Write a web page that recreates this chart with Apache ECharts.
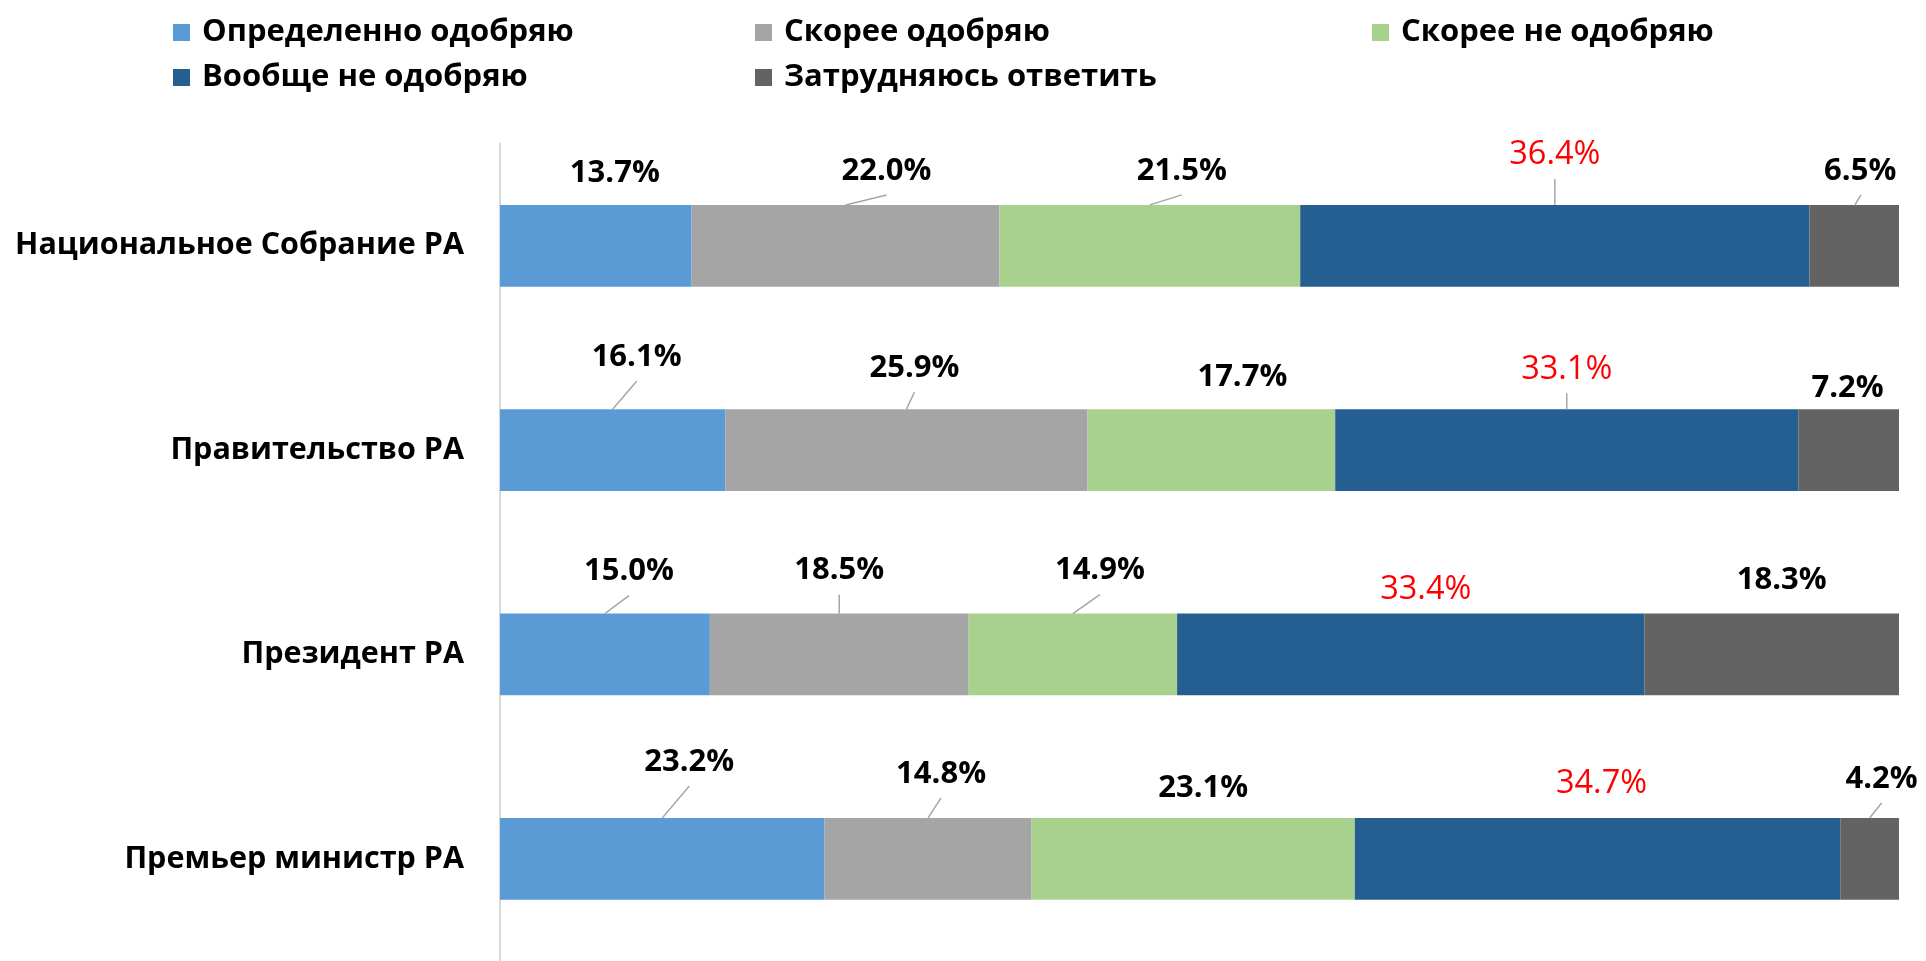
<!DOCTYPE html>
<html>
<head>
<meta charset="utf-8">
<script src="https://cdn.jsdelivr.net/npm/echarts@6/dist/echarts.min.js"></script>
<style>
html,body{margin:0;padding:0;background:#fff;}
#chart{width:1926px;height:961px;}
</style>
</head>
<body>
<div id="chart"></div>
<script>
// ---- data ----
const categories = ['Национальное Собрание РА', 'Правительство РА', 'Президент РА', 'Премьер министр РА'];
const seriesNames = ['Определенно одобряю', 'Скорее одобряю', 'Скорее не одобряю', 'Вообще не одобряю', 'Затрудняюсь ответить'];
const definitelyApprove = [13.7, 16.1, 15.0, 23.2];
const ratherApprove = [22.0, 25.9, 18.5, 14.8];
const ratherDisapprove = [21.5, 17.7, 14.9, 23.1];
const totallyDisapprove = [36.4, 33.1, 33.4, 34.7];
const hardToSay = [6.5, 7.2, 18.3, 4.2];
const seriesValues = [definitelyApprove, ratherApprove, ratherDisapprove, totallyDisapprove, hardToSay];

// ---- layout / style (kept apart from data) ----
const colors = ['#5B9BD5', '#A5A5A5', '#A9D18E', '#255E91', '#636363'];
// label centre offset [dx, dy] in px from (segment centre, bar top), per series then per category
const labelOffsets = [
  [[19, -32], [24, -52], [24, -42], [27, -56]],
  [[41, -34], [8, -41], [0, -43], [13, -44]],
  [[32, -34], [31, -32], [27, -43], [10, -30]],
  [[0, -50], [0, -40], [15, -24], [4, -34]],
  [[6, -34], [-1, -21], [10, -33], [12, -39]]
];
// whether a leader line is drawn
const leaderShown = [
  [false, true, true, true],
  [true, true, true, true],
  [true, false, true, false],
  [true, true, false, false],
  [true, false, false, true]
];
const LINE_GAP = 24;
const BAR_RATIO = 0.4;
const FONT = "'Open Sans', 'Noto Sans', sans-serif";

const chart = echarts.init(document.getElementById('chart'));

const barSeries = seriesValues.map((vals, s) => ({
  name: seriesNames[s],
  type: 'bar',
  stack: 'total',
  barWidth: (BAR_RATIO * 100) + '%',
  itemStyle: { color: colors[s] },
  emphasis: { disabled: true },
  label: {
    show: true,
    position: ['50%', 0],
    align: 'center',
    verticalAlign: 'middle',
    fontFamily: FONT,
    fontSize: s === 3 ? 32.5 : 31,
    fontWeight: s === 3 ? 'normal' : 'bold',
    color: s === 3 ? '#FF0000' : '#000000',
    formatter: p => p.value.toFixed(1) + '%'
  },
  data: vals.map((v, i) => ({ value: v, label: { offset: labelOffsets[s][i] } }))
}));

// leader lines data: [segment middle value, category index, series index]
const leaderData = [];
seriesValues.forEach((vals, s) => {
  vals.forEach((v, i) => {
    if (!leaderShown[s][i]) return;
    let cum = 0;
    for (let k = 0; k < s; k++) cum += seriesValues[k][i];
    leaderData.push([cum + v / 2, i, s]);
  });
});

const leaderSeries = {
  type: 'custom',
  coordinateSystem: 'cartesian2d',
  silent: true,
  z: 5,
  encode: { x: 0, y: 1 },
  data: leaderData,
  renderItem: function (params, api) {
    const mid = api.value(0);
    const row = api.value(1);
    const s = api.value(2);
    const p = api.coord([mid, row]);
    const band = api.size([0, 1])[1];
    const top = p[1] - band * BAR_RATIO / 2;
    const off = labelOffsets[s][row];
    return {
      type: 'line',
      shape: { x1: p[0], y1: top, x2: p[0] + off[0], y2: top + off[1] + LINE_GAP },
      style: { stroke: '#A6A6A6', lineWidth: 1.5 }
    };
  }
};

const legendPos = [[168, 12], [750, 12], [1367, 12], [168, 57], [750, 57]];
const legends = seriesNames.map((n, s) => ({
  data: [n],
  left: legendPos[s][0],
  top: legendPos[s][1],
  icon: 'rect',
  itemWidth: 17,
  itemHeight: 17,
  itemGap: 0,
  selectedMode: false,
  textStyle: { fontFamily: FONT, fontSize: 31, fontWeight: 'bold', color: '#000', padding: [0, 0, 0, 7] }
}));

chart.setOption({
  animation: false,
  legend: legends,
  grid: { left: 500, width: 1399, top: 143.6, height: 821.4, containLabel: false },
  xAxis: { type: 'value', min: 0, max: 100, show: false },
  yAxis: {
    type: 'category',
    inverse: true,
    data: categories,
    axisLine: { show: true, lineStyle: { color: '#D9D9D9', width: 2 } },
    axisTick: { show: false },
    splitLine: { show: false },
    axisLabel: { fontFamily: FONT, fontSize: 30.5, fontWeight: 'bold', color: '#000', margin: 36 }
  },
  series: barSeries.concat([leaderSeries])
});
</script>
</body>
</html>
